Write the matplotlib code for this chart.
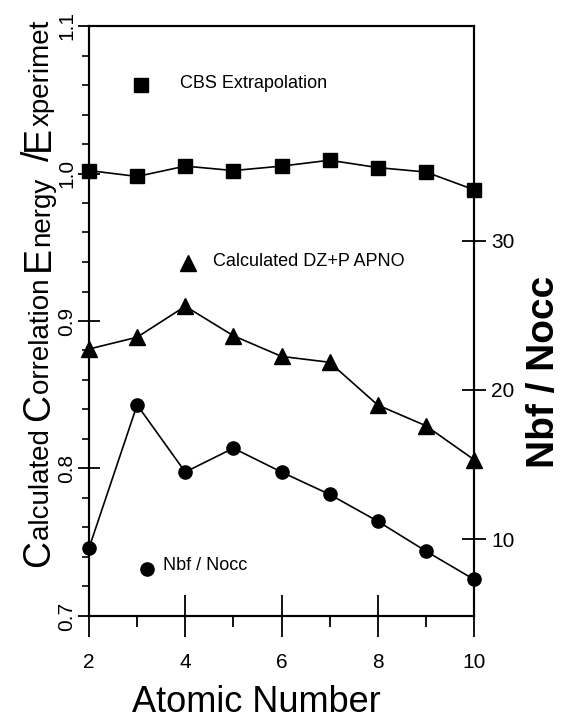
import matplotlib
matplotlib.use("Agg")
import matplotlib.pyplot as plt
from matplotlib.ticker import MultipleLocator, FixedLocator

plt.rcParams['font.family'] = ['Liberation Sans', 'DejaVu Sans']

atomic_number = [2, 3, 4, 5, 6, 7, 8, 9, 10]
cbs_extrapolation = [1.002, 0.998, 1.005, 1.002, 1.005, 1.009, 1.004, 1.001, 0.989]
dzp_apno = [0.881, 0.889, 0.910, 0.890, 0.876, 0.872, 0.843, 0.829, 0.806]
nbf_nocc = [9.4, 19.0, 14.5, 16.1, 14.5, 13.0, 11.2, 9.2, 7.3]

x_ticks = [2, 4, 6, 8, 10]
x_minor = [3, 5, 7, 9]
left_ticks = [0.7, 0.8, 0.9, 1.0, 1.1]
right_ticks = [10, 20, 30]

W, H = 563, 728
fig = plt.figure(figsize=(W / 100, H / 100), dpi=100)
ax = fig.add_axes([89 / W, 1 - 616 / H, (474 - 89) / W, (616 - 26) / H])
ax.set_xlim(2, 10)
ax.set_ylim(0.7, 1.1)
ax2 = ax.twinx()
ax2.set_ylim(4.85, 44.4)

lw = 1.2
ax.plot(atomic_number, cbs_extrapolation, color='black', lw=lw, marker='s',
        ms=9.5, clip_on=False, zorder=5)
ax.plot(atomic_number, dzp_apno, color='black', lw=lw, marker='^',
        ms=11, clip_on=False, zorder=5)
ax2.plot(atomic_number, nbf_nocc, color='black', lw=lw, marker='o',
         ms=9.5, clip_on=False, zorder=5)

# in-plot key
ax.plot([3.08], [1.06], marker='s', color='black', ms=9.5, ls='none')
ax.text(3.89, 1.061, 'CBS Extrapolation', fontsize=13, va='center', ha='left')
ax.plot([4.06], [0.939], marker='^', color='black', ms=11, ls='none')
ax.text(4.57, 0.940, 'Calculated DZ+P APNO', fontsize=13, va='center', ha='left')
ax.plot([3.2], [0.732], marker='o', color='black', ms=9.5, ls='none')
ax.text(3.53, 0.734, 'Nbf / Nocc', fontsize=13, va='center', ha='left')

for sp in ['left', 'right', 'top', 'bottom']:
    ax.spines[sp].set_linewidth(1.5)
    ax2.spines[sp].set_linewidth(1.5)

ax.xaxis.set_major_locator(FixedLocator(x_ticks))
ax.xaxis.set_minor_locator(FixedLocator(x_minor))
ax.set_xticklabels([str(v) for v in x_ticks])
ax.yaxis.set_major_locator(FixedLocator(left_ticks))
ax.yaxis.set_minor_locator(MultipleLocator(0.02))
ax.set_yticklabels(['%.1f' % v for v in left_ticks])

ax.tick_params(axis='x', which='major', direction='inout', length=30, width=1.3,
               labelsize=15, pad=12, top=False)
ax.tick_params(axis='x', which='minor', direction='out', length=8, width=1.3, top=False)
ax.tick_params(axis='y', which='major', direction='inout', length=16, width=1.3,
               labelsize=15, pad=1, labelrotation=90, right=False)
ax.tick_params(axis='y', which='minor', direction='out', length=5, width=1.2, right=False)
for lab in ax.get_yticklabels():
    lab.set_verticalalignment('center')

ax2.yaxis.set_major_locator(FixedLocator(right_ticks))
ax2.yaxis.set_minor_locator(FixedLocator([]))
ax2.set_yticklabels([str(v) for v in right_ticks])
ax2.tick_params(axis='y', which='major', direction='inout', length=17, width=1.3,
                labelsize=15, pad=4)

# x label and right label
fig.text(256.5 / W, 1 - 712 / H, 'Atomic Number', fontsize=26, ha='center', va='baseline')
fig.text(544 / W, 1 - 372 / H, 'Nbf / Nocc', fontsize=28, fontweight='bold',
         rotation=90, ha='center', va='center')

# composite left label with large initials
segments = [('C', 27), ('alculated ', 20), ('C', 27), ('orrelation ', 20),
            ('E', 27), ('nergy', 20), ('  ', 20), ('/', 27), ('E', 27), ('xperimet', 20)]
renderer = fig.canvas.get_renderer()
x_base = 49
y_cur = H - 567
for txt, size in segments:
    t = fig.text(x_base / W, y_cur / H, txt, fontsize=size, rotation=90,
                 rotation_mode='anchor', ha='left', va='baseline')
    bb = t.get_window_extent(renderer=renderer)
    y_cur += bb.height

fig.savefig('out.png', dpi=100)
